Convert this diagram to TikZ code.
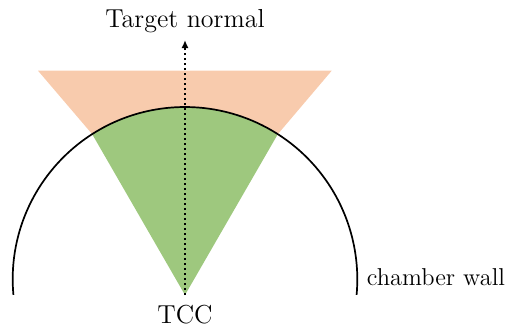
\documentclass[tikz,border=0pt]{standalone}
\usepackage{tikz}
\usetikzlibrary{arrows.meta, positioning, calc}
\definecolor{cCone}{RGB}{248,203,173}
\definecolor{cBeam}{RGB}{158,200,126}
\tikzset{
	wall/.style={line width=0.85pt, draw=black},
	cone/.style={fill=cCone, draw=none},
	beam/.style={fill=cBeam, draw=none},
	normalarrow/.style={-{Latex[length=4pt, width=3.5pt]}, line width=1pt, dash pattern=on 1pt off 1.5pt},
	lbl/.style={font=\fontsize{13}{15}\selectfont, inner sep=2pt},
}

\begin{document}
\begin{tikzpicture}[x=0.5pt, y=-0.5pt]
	\useasboundingbox (0,0) rectangle (508,327);
	% centre of the wall and the two corners of the beam
	\coordinate (tcc) at (185,295);
	\coordinate (ctr) at (185,279.3);
	\coordinate (lc) at ($(ctr)+(122.6:86.15pt)$);
	\coordinate (rc) at ($(ctr)+(57.4:86.15pt)$);
	% cone outside the wall
	\fill[cone] (38,70.7) -- (331.7,70.7) -- (rc) arc[start angle=57.4, end angle=122.6, radius=86.15pt] -- cycle;
	% beam inside the wall
	\fill[beam] (tcc) -- (lc) arc[start angle=122.6, end angle=57.4, radius=86.15pt] -- cycle;
	% chamber wall
	\draw[wall] ($(ctr)+(185.2:86.15pt)$) coordinate (wl) arc[start angle=185.2, end angle=-5.2, radius=86.15pt] coordinate (wr);
	% target normal
	\coordinate (tip) at (185,40);
	\draw[normalarrow] (tcc) -- (tip);
	\node[lbl, above=1.5pt of tip] (normal) {Target normal};
	\node[lbl, below=3pt of tcc] (tcclbl) {TCC};
	\node[lbl, font=\fontsize{12.2}{15}\selectfont, anchor=base west] (walllbl) at ($(wr)+(6,-9)$) {chamber wall};
\end{tikzpicture}
\end{document}
